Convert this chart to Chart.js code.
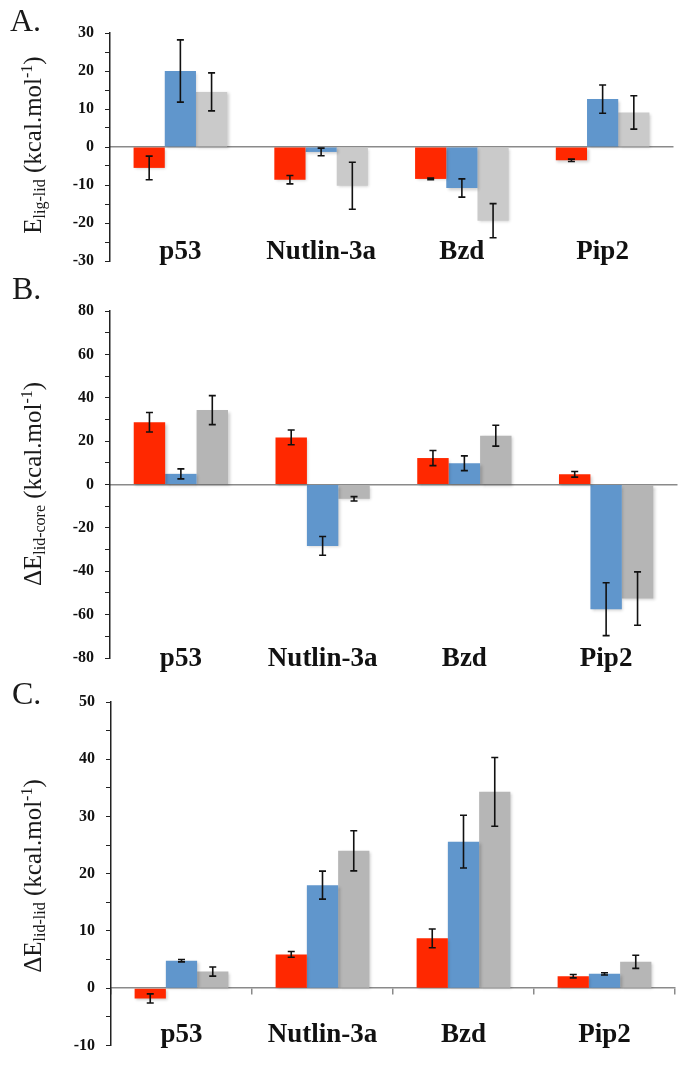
<!DOCTYPE html>
<html><head><meta charset="utf-8">
<script src="https://cdn.jsdelivr.net/npm/chart.js@4.4.1/dist/chart.umd.min.js"></script>
<style>
html,body{margin:0;padding:0;background:#fff;}
body{width:698px;height:1066px;position:relative;overflow:hidden;font-family:'Liberation Serif','Times New Roman',serif;color:#111;}
canvas{position:absolute;left:0;}
.letter{position:absolute;font-size:32px;line-height:1;color:#1a1a1a;}
.ytitle{position:absolute;white-space:nowrap;font-size:25px;line-height:1;color:#1a1a1a;transform:translate(-50%,-50%) rotate(-90deg);}
.ytitle sub{font-size:64%;vertical-align:-0.3em;line-height:0;}
.ytitle sup{font-size:64%;vertical-align:0.55em;line-height:0;}
</style></head>
<body>
<canvas id="cA" width="698" height="290" style="top:0px"></canvas>
<canvas id="cB" width="698" height="410" style="top:280px"></canvas>
<canvas id="cC" width="698" height="386" style="top:680px"></canvas>
<div class="letter" style="left:10px;top:4px">A.</div>
<div class="letter" style="left:12px;top:272px">B.</div>
<div class="letter" style="left:12px;top:677px">C.</div>
<div class="ytitle" style="left:32px;top:145px">E<sub>lig-lid</sub> (kcal.mol<sup>-1</sup>)</div>
<div class="ytitle" style="left:32px;top:484px">ΔE<sub>lid-core</sub> (kcal.mol<sup>-1</sup>)</div>
<div class="ytitle" style="left:32px;top:876px">ΔE<sub>lid-lid</sub> (kcal.mol<sup>-1</sup>)</div>
<script>
// ---- data ----
const categories = ['p53', 'Nutlin-3a', 'Bzd', 'Pip2'];

// Panel A: E lig-lid
const aRed = [-5.5, -8.6, -8.4, -3.5];
const aRedErr = [3.1, 1.1, 0.2, 0.3];
const aBlue = [20.0, -1.3, -10.8, 12.6];
const aBlueErr = [8.2, 1.0, 2.4, 3.7];
const aGray = [14.5, -10.2, -19.4, 9.1];
const aGrayErr = [5.0, 6.2, 4.5, 4.4];
const aTicks = [-30, -20, -10, 0, 10, 20, 30];

// Panel B: dE lid-core
const bRed = [28.7, 21.7, 12.2, 4.7];
const bRedErr = [4.5, 3.4, 3.5, 1.3];
const bBlue = [4.9, -28.3, 9.8, -57.5];
const bBlueErr = [2.3, 4.3, 3.4, 12.2];
const bGray = [34.3, -6.6, 22.5, -52.6];
const bGrayErr = [6.7, 1.0, 4.8, 12.3];
const bTicks = [-80, -60, -40, -20, 0, 20, 40, 60, 80];

// Panel C: dE lid-lid
const cRed = [-1.8, 5.9, 8.7, 2.1];
const cRedErr = [0.8, 0.5, 1.65, 0.3];
const cBlue = [4.8, 18.0, 25.6, 2.5];
const cBlueErr = [0.2, 2.45, 4.6, 0.2];
const cGray = [2.9, 24.0, 34.3, 4.6];
const cGrayErr = [0.8, 3.5, 6.0, 1.15];
const cTicks = [-10, 0, 10, 20, 30, 40, 50];

// ---- styles ----
const RED = '#FF2800', BLUE = '#6096CC';
const SERIF = "'Liberation Serif','Times New Roman',serif";

const errPlugin = {
  id: 'errbars',
  beforeDatasetsDraw(chart) {
    const c = chart.ctx;
    c.save();
    c.shadowColor = 'rgba(0,0,0,0.2)';
    c.shadowBlur = 3;
    c.shadowOffsetX = 1.5;
    c.shadowOffsetY = 1.5;
  },
  afterDatasetsDraw(chart) {
    const c = chart.ctx;
    c.restore();
    const ys = chart.scales.y;
    c.save();
    c.strokeStyle = '#111';
    c.lineWidth = 1.6;
    chart.data.datasets.forEach((ds, i) => {
      const meta = chart.getDatasetMeta(i);
      meta.data.forEach((bar, j) => {
        const v = ds.data[j], e = ds.errs[j];
        const t = ys.getPixelForValue(v + e), b = ys.getPixelForValue(v - e);
        const x = bar.x, w = 3.5;
        c.beginPath();
        c.moveTo(x, t); c.lineTo(x, b);
        c.moveTo(x - w, t); c.lineTo(x + w, t);
        c.moveTo(x - w, b); c.lineTo(x + w, b);
        c.stroke();
      });
    });
    c.restore();
  }
};

function makePanel(id, red, redErr, blue, blueErr, gray, grayErr, grayCol, ticks, step, pad, labelPad, xTicks) {
  const majors = ticks;
  return new Chart(document.getElementById(id), {
    type: 'bar',
    data: {
      labels: categories,
      datasets: [
        { data: red, errs: redErr, backgroundColor: RED },
        { data: blue, errs: blueErr, backgroundColor: BLUE },
        { data: gray, errs: grayErr, backgroundColor: grayCol }
      ]
    },
    options: {
      responsive: false,
      animation: false,
      events: [],
      layout: { padding: { top: pad.top, bottom: pad.bottom, left: 0, right: pad.right } },
      datasets: { bar: { categoryPercentage: 0.665, barPercentage: 1.0, borderWidth: 0 } },
      plugins: { legend: { display: false }, tooltip: { enabled: false } },
      scales: {
        x: {
          type: 'category',
          position: { y: 0 },
          offset: true,
          afterFit(s) { s.paddingLeft = 0; s.paddingRight = 0; },
          grid: { display: true, offset: true, drawOnChartArea: false, drawTicks: xTicks, tickLength: 6, color: '#8a8a8a', lineWidth: 1.5 },
          border: { display: true, color: '#8a8a8a', width: 1.5 },
          ticks: { padding: labelPad, autoSkip: false, maxRotation: 0, color: '#111', font: { family: SERIF, size: 27, weight: 'bold' } }
        },
        y: {
          min: ticks[0],
          max: ticks[ticks.length - 1],
          afterFit(s) { s.width = pad.yw; },
          ticks: {
            stepSize: step,
            autoSkip: false,
            padding: 11,
            color: '#111',
            font: { family: SERIF, size: 16, weight: 'bold' },
            callback: v => majors.includes(v) ? String(v) : ''
          },
          grid: { drawOnChartArea: false, drawTicks: true, tickLength: 5, color: '#222', lineWidth: 1 },
          border: { display: true, color: '#222', width: 1.5 }
        }
      }
    },
    plugins: [errPlugin]
  });
}

makePanel('cA', aRed, aRedErr, aBlue, aBlueErr, aGray, aGrayErr, '#CACACA', aTicks, 5,
  { top: 33, bottom: 29, right: 25, yw: 110 }, 89, false);
makePanel('cB', bRed, bRedErr, bBlue, bBlueErr, bGray, bGrayErr, '#B5B5B5', bTicks, 10,
  { top: 31, bottom: 32, right: 21, yw: 110 }, 158, false);
makePanel('cC', cRed, cRedErr, cBlue, cBlueErr, cGray, cGrayErr, '#B6B6B6', cTicks, 5,
  { top: 22, bottom: 16, right: 23, yw: 111 }, 25, true);
</script>
</body></html>
